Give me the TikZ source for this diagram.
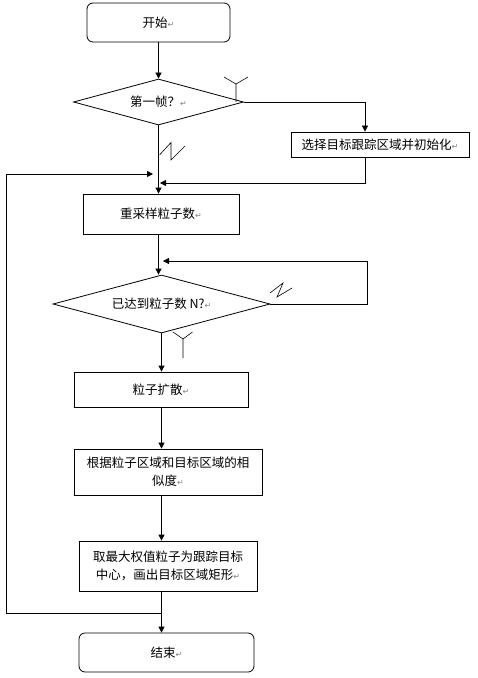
\documentclass[tikz,border=0pt]{standalone}
\usepackage{fontspec}
\setmainfont{Noto Sans CJK SC}
\newfontfamily\symfont{DejaVu Sans}
\usepackage{tikz}
\usetikzlibrary{shapes.geometric}
\usetikzlibrary{arrows.meta}
\newcommand{\crmark}{{\symfont\fontsize{8bp}{8bp}\selectfont\textcolor{gray}{↵}}}
\tikzset{
  flowbox/.style={draw,line width=0.8bp,inner sep=0pt,align=center},
  termbox/.style={flowbox,rounded corners=6bp},
  decision/.style={draw,diamond,aspect=3.7,line width=0.8bp,inner sep=0pt,align=center},
  flowline/.style={line width=0.8bp,-{Triangle[length=6bp,width=6bp]}},
  ynmark/.style={line width=0.6bp}
}

\begin{document}
\begin{tikzpicture}[x=1bp,y=-1bp,font=\fontsize{12.5bp}{18bp}\selectfont]
    \useasboundingbox (0,0) rectangle (478,678);
    % Steps
    \node[termbox,minimum width=143bp,minimum height=39bp] (start) at (158.5,22.5) {开始\crmark};
    \node[decision,minimum width=170bp,minimum height=46bp] (first) at (158.5,102) {第一帧？\crmark};
    \node[flowbox,minimum width=178bp,minimum height=25bp] (init) at (380,144.5) {选择目标跟踪区域并初始化\crmark};
    \node[flowbox,minimum width=156bp,minimum height=40bp] (resample) at (161,214) {重采样粒子数\crmark};
    \node[decision,minimum width=217bp,minimum height=58bp] (count) at (161.5,304) {已达到粒子数 N?\crmark};
    \node[flowbox,minimum width=174bp,minimum height=35bp] (diffuse) at (161,389.5) {粒子扩散\crmark};
    \node[flowbox,minimum width=188bp,minimum height=46bp] (weight) at (168,472) {根据粒子区域和目标区域的相\\似度\crmark};
    \node[flowbox,minimum width=178bp,minimum height=50bp] (locate) at (168,566) {取最大权值粒子为跟踪目标\\中心，画出目标区域矩形\crmark};
    \node[termbox,minimum width=175bp,minimum height=39bp] (stop) at (166.5,652.5) {结束\crmark};
    % Loop points
    \coordinate (joinR) at (160,183);
    \coordinate (joinL) at (153,174);
    \coordinate (backR) at (367,261);
    \coordinate (backin) at (163,261);
    \coordinate (loopL) at (6,613);
    % Main line
    \draw[flowline] (start.south) -- (first.north);
    \draw[flowline] (first.south) -- (first.south |- resample.north);
    \draw[flowline] (first.south |- resample.south) -- (first.south |- count.north);
    \draw[flowline] (count.south) -- (count.south |- diffuse.north);
    \draw[flowline] (count.south |- diffuse.south) -- (count.south |- weight.north);
    \draw[flowline] (count.south |- weight.south) -- (count.south |- locate.north);
    \draw[flowline] (count.south |- locate.south) -- (count.south |- stop.north);
    % Branches
    \draw[flowline] (first.east) -| ([xshift=-15bp]init.north);
    \draw[flowline] ([xshift=-15bp]init.south) |- (joinR);
    \draw[flowline] (count.east) -| (backR) -- (backin);
    \draw[flowline] (count.south |- loopL) -- (loopL) |- (joinL);
    % Y / N marks
    \draw[ynmark] (224,77) -- (236,84) -- (248,77) (236,84) -- (236,102);
    \draw[ynmark] (159.5,155) -- (171,142.5) -- (171,160) -- (185,146);
    \draw[ynmark] (270,293) -- (283,283) -- (277,297) -- (292,288);
    \draw[ynmark] (173,332) -- (183,339) -- (192.5,332) (183,339) -- (183,358);
\end{tikzpicture}
\end{document}
